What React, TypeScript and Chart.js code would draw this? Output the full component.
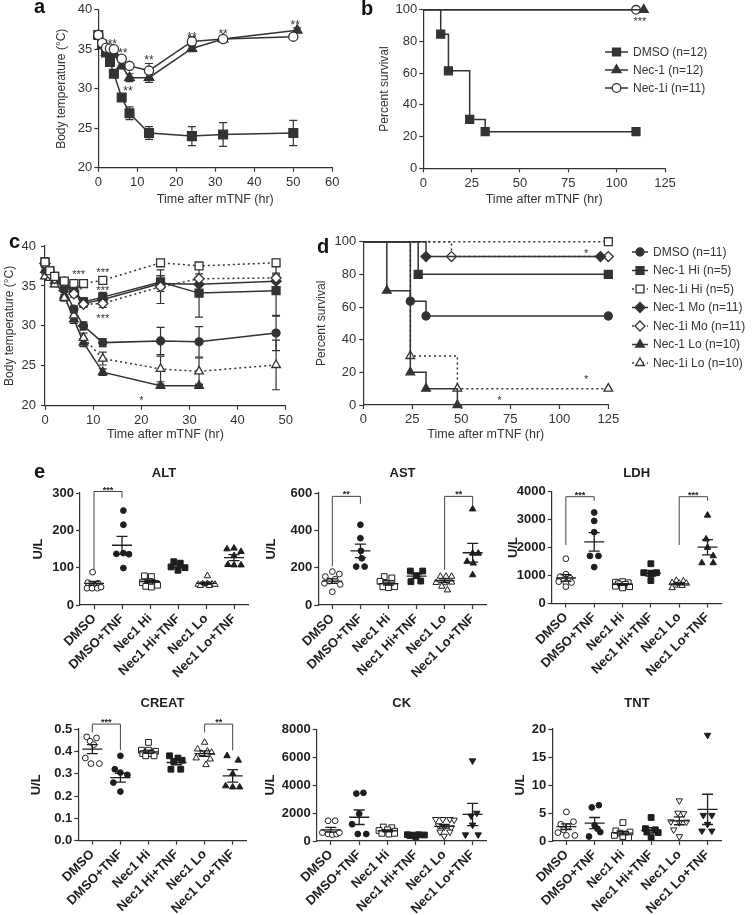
import React, { useEffect, useRef } from 'react';
import { Chart, registerables } from 'chart.js';

Chart.register(...registerables);

const FONT = '"Liberation Sans", Arial, Helvetica, sans-serif';
const INK = '#333333';
const DARK = '#1e1e1e';

// ===== Panel a : body temperature =====
const aTime = [0, 1, 2, 3, 4, 6, 8, 13, 24, 32, 50];
const aTimeNec1 = [0, 1, 2, 3, 4, 6, 8, 13, 24, 32, 51];
const aDmso = [36.8, 35.6, 34.6, 33.4, 31.9, 28.9, 26.9, 24.4, 24.0, 24.2, 24.4];
const aDmsoErr = [0.3, 0.3, 0.3, 0.3, 0.3, 0.4, 0.8, 0.8, 1.2, 1.5, 1.6];
const aNec1 = [36.8, 35.5, 34.6, 34.5, 34.4, 32.9, 31.4, 31.4, 35.1, 36.3, 37.4];
const aNec1Err = [0.2, 0.2, 0.2, 0.2, 0.2, 0.4, 0.5, 0.6, 0.4, 0.2, 0.3];
const aNec1i = [36.8, 35.8, 35.2, 35.1, 35.0, 33.8, 32.9, 32.3, 36.0, 36.3, 36.6];
const aNec1iErr = [0.2, 0.2, 0.2, 0.2, 0.2, 0.3, 0.3, 0.9, 0.6, 0.2, 0.2];
const aStarX = [3.6, 6.3, 7.6, 13, 24, 32, 50.5];
const aStarY = [36.0, 34.8, 30.0, 34.0, 36.9, 37.3, 38.4];
const aStarText = ['**', '**', '**', '**', '**', '**', '**'];

// ===== Panel b : survival =====
const bDmsoX = [0, 9, 13, 24, 32, 110];
const bDmsoY = [100, 84.6, 61.5, 30.8, 23.1, 23.1];
const bNec1X = [0, 114];
const bNec1Y = [100, 100];
const bNec1iX = [0, 110];
const bNec1iY = [100, 100];
const bLegend = ['DMSO (n=12)', 'Nec-1 (n=12)', 'Nec-1i (n=11)'];
const bStarX = [112];
const bStarY = [94.5];
const bStarText = ['***'];

// ===== Panel c : body temperature, doses =====
const cTime = [0, 1, 2, 4, 6, 8, 12, 24, 32, 48];
const cDmso = [37.8, 36.8, 36.0, 34.6, 32.1, 30.0, 27.9, 28.1, 28.0, 29.1];
const cDmsoErr = [0.3, 0.3, 0.3, 0.4, 0.4, 0.5, 0.5, 1.7, 1.9, 2.2];
const cNec1Hi = [38.0, 36.9, 36.2, 35.5, 34.5, 33.0, 33.6, 35.5, 34.1, 34.4];
const cNec1HiErr = [0.2, 0.3, 0.3, 0.3, 0.4, 0.5, 0.6, 0.8, 3.0, 3.2];
const cNec1iHi = [38.0, 36.9, 36.2, 35.6, 35.3, 35.3, 35.7, 37.9, 37.5, 37.9];
const cNec1iHiErr = [0.2, 0.2, 0.2, 0.2, 0.3, 0.3, 0.4, 0.3, 0.4, 0.3];
const cNec1Mo = [37.8, 36.6, 36.0, 35.4, 34.3, 32.8, 33.3, 35.3, 35.2, 35.6];
const cNec1MoErr = [0.2, 0.2, 0.2, 0.3, 0.4, 0.4, 0.6, 1.0, 0.8, 0.8];
const cNec1iMo = [37.8, 36.5, 35.9, 35.5, 34.0, 32.7, 32.8, 34.9, 35.9, 36.0];
const cNec1iMoErr = [0.2, 0.2, 0.2, 0.3, 0.4, 0.4, 0.5, 2.1, 0.6, 0.6];
const cNec1LoTime = [0, 1, 2, 4, 6, 8, 12, 24, 32];
const cNec1Lo = [37.0, 36.0, 35.6, 33.8, 30.8, 27.9, 24.2, 22.5, 22.5];
const cNec1LoErr = [0.3, 0.3, 0.3, 0.4, 0.5, 0.5, 0.4, 0.2, 0.2];
const cNec1iLo = [36.2, 36.0, 35.2, 33.5, 31.3, 28.5, 25.9, 24.6, 24.3, 25.1];
const cNec1iLoErr = [0.3, 0.3, 0.3, 0.4, 0.5, 0.6, 0.8, 1.6, 1.7, 3.1];
const cStarX = [7, 12, 12, 12, 7, 20];
const cStarY = [36.7, 37.0, 34.7, 31.2, 34.8, 21.0];
const cStarText = ['***', '***', '***', '***', '**', '*'];

// ===== Panel d : survival, doses =====
const dDmsoX = [0, 24, 32, 125];
const dDmsoY = [100, 63.6, 54.5, 54.5];
const dNec1HiX = [0, 28, 125];
const dNec1HiY = [100, 80, 80];
const dNec1iHiX = [0, 125];
const dNec1iHiY = [100, 100];
const dNec1MoX = [0, 32, 121];
const dNec1MoY = [100, 90.9, 90.9];
const dNec1iMoX = [0, 45, 125];
const dNec1iMoY = [100, 90.9, 90.9];
const dNec1LoX = [0, 12, 24, 32, 48];
const dNec1LoY = [100, 70, 20, 10, 0];
const dNec1iLoX = [0, 24, 48, 125];
const dNec1iLoY = [100, 30, 10, 10];
const dLegend = ['DMSO (n=11)', 'Nec-1 Hi (n=5)', 'Nec-1i Hi (n=5)', 'Nec-1 Mo (n=11)', 'Nec-1i Mo (n=11)', 'Nec-1 Lo (n=10)', 'Nec-1i Lo (n=10)'];
const dStarX = [113.7, 113.7, 69.4];
const dStarY = [94.3, 17.3, 4.5];
const dStarText = ['*', '*', '*'];

// ===== Panel e : serum markers =====
const eCats = ['DMSO', 'DMSO+TNF', 'Nec1 Hi', 'Nec1 Hi+TNF', 'Nec1 Lo', 'Nec1 Lo+TNF'];

const altPoints = [
  [[-0.05, 88], [-0.22, 60], [0.15, 58], [0.0, 52], [-0.25, 45], [-0.07, 45], [0.12, 45], [0.25, 48]],
  [[0.05, 253], [0.05, 215], [-0.2, 137], [0.05, 139], [0.25, 136], [0.05, 99]],
  [[-0.2, 78], [0.05, 76], [-0.27, 60], [0.0, 63], [0.2, 58], [-0.15, 50], [0.05, 48], [0.27, 53]],
  [[-0.15, 116], [0.08, 112], [-0.25, 102], [0.25, 100], [0.0, 93]],
  [[0.05, 78], [-0.28, 55], [-0.12, 56], [0.05, 57], [0.22, 56], [-0.2, 52], [0.12, 52], [0.32, 55]],
  [[-0.25, 150], [0.0, 152], [0.25, 143], [0.0, 132], [-0.22, 108], [0.0, 107], [0.25, 107]],
];
const altMean = [58, 160, 63, 104, 58, 127];
const altSem = [5, 24, 4, 4, 3, 8];
const altBrackets = [[0, 1, 304, 94, 287, '***']];

const astPoints = [
  [[0.0, 179], [0.25, 166], [-0.25, 152], [0.1, 138], [-0.28, 116], [-0.1, 128], [0.0, 71], [0.28, 110]],
  [[0.0, 430], [0.0, 358], [0.02, 290], [0.05, 250], [-0.15, 206], [0.15, 206]],
  [[-0.15, 152], [0.12, 145], [-0.3, 127], [-0.08, 116], [0.12, 116], [-0.2, 98], [0.0, 93], [0.22, 98]],
  [[-0.22, 182], [0.22, 182], [0.0, 157], [-0.2, 125], [0.15, 128]],
  [[-0.15, 153], [0.05, 153], [0.25, 153], [-0.3, 120], [0.0, 118], [0.25, 122], [-0.1, 100], [0.1, 80]],
  [[0.0, 514], [0.0, 277], [0.2, 277], [-0.2, 233], [0.02, 224], [0.0, 161]],
];
const astMean = [128, 290, 115, 155, 130, 280];
const astSem = [12, 36, 8, 12, 10, 50];
const astBrackets = [[0, 1, 582, 206, 542, '**'], [4, 5, 582, 188, 535, '**']];

const ldhPoints = [
  [[0.0, 1600], [0.0, 1050], [-0.2, 960], [0.15, 900], [-0.25, 780], [0.0, 750], [0.2, 750], [0.0, 600]],
  [[0.0, 3250], [0.0, 2950], [0.0, 2550], [-0.15, 1700], [0.15, 1700], [0.0, 1300]],
  [[-0.25, 760], [0.0, 780], [0.2, 740], [-0.15, 700], [0.1, 680], [-0.25, 620], [0.0, 560], [0.25, 600]],
  [[0.0, 1420], [-0.25, 1100], [0.2, 1100], [0.0, 1060], [0.0, 820]],
  [[-0.1, 820], [0.15, 800], [-0.25, 740], [0.0, 720], [0.25, 720], [-0.15, 650], [0.1, 640], [-0.25, 560]],
  [[0.0, 3150], [-0.05, 2300], [0.0, 2000], [0.2, 1700], [-0.2, 1450], [0.2, 1450]],
];
const ldhMean = [910, 2200, 680, 1080, 700, 2010];
const ldhSem = [120, 330, 30, 100, 35, 270];
const ldhBrackets = [[0, 1, 3814, 2089, 3671, '***'], [4, 5, 3814, 2089, 3671, '***']];

const creatPoints = [
  [[-0.2, 0.465], [0.15, 0.46], [-0.08, 0.445], [0.05, 0.43], [-0.25, 0.37], [-0.05, 0.345], [0.25, 0.345]],
  [[0.0, 0.38], [-0.2, 0.32], [0.0, 0.305], [0.25, 0.295], [-0.25, 0.26], [0.0, 0.22]],
  [[0.0, 0.44], [-0.25, 0.405], [0.0, 0.405], [0.25, 0.40], [-0.2, 0.39], [0.1, 0.39], [-0.1, 0.38], [0.2, 0.38]],
  [[-0.25, 0.38], [0.05, 0.37], [0.2, 0.36], [-0.1, 0.355], [-0.2, 0.32], [0.15, 0.32]],
  [[0.0, 0.44], [-0.25, 0.41], [0.1, 0.40], [0.25, 0.395], [-0.1, 0.39], [-0.3, 0.37], [0.2, 0.365], [0.05, 0.34]],
  [[-0.2, 0.38], [0.2, 0.36], [0.0, 0.30], [-0.25, 0.245], [0.0, 0.24], [0.25, 0.24]],
];
const creatMean = [0.41, 0.282, 0.398, 0.35, 0.39, 0.29];
const creatSem = [0.02, 0.02, 0.007, 0.01, 0.012, 0.028];
const creatBrackets = [[0, 1, 0.522, 0.485, 0.405, '***'], [4, 5, 0.522, 0.485, 0.405, '**']];

const ckPoints = [
  [[-0.1, 1450], [0.15, 1450], [-0.3, 600], [-0.1, 500], [0.05, 450], [0.2, 500], [0.3, 600]],
  [[-0.1, 3400], [0.15, 3450], [0.0, 1950], [-0.25, 1200], [-0.05, 500], [0.25, 500]],
  [[-0.15, 1000], [0.15, 950], [-0.3, 750], [0.0, 800], [0.25, 700], [-0.2, 550], [0.05, 500], [0.25, 550]],
  [[-0.3, 450], [-0.1, 420], [0.1, 450], [0.3, 430], [0.0, 300], [-0.2, 380]],
  [[-0.3, 1550], [-0.05, 1550], [0.2, 1550], [0.35, 1500], [-0.2, 1100], [0.0, 1000], [0.25, 950], [-0.15, 650], [0.2, 650], [0.0, 350]],
  [[0.0, 5750], [0.15, 2000], [-0.05, 1800], [0.0, 1150], [-0.25, 450], [0.2, 450]],
];
const ckMean = [800, 1700, 720, 400, 1050, 1900];
const ckSem = [170, 520, 70, 25, 130, 800];

const tntPoints = [
  [[0.0, 5.2], [0.25, 3.45], [-0.2, 3.0], [0.05, 2.6], [-0.1, 2.0], [-0.3, 1.5], [0.0, 1.0], [0.3, 1.0]],
  [[-0.1, 6.0], [0.15, 6.4], [0.0, 2.8], [0.2, 1.6], [-0.2, 0.8], [0.1, 2.2]],
  [[0.0, 3.3], [-0.25, 1.8], [0.25, 1.6], [-0.1, 1.4], [0.1, 1.2], [-0.3, 1.0], [0.0, 0.8], [0.2, 0.6]],
  [[0.0, 4.2], [-0.2, 2.2], [0.15, 2.0], [-0.15, 1.6], [0.25, 1.5], [0.0, 0.6]],
  [[0.0, 7.2], [-0.05, 5.0], [0.15, 4.9], [-0.3, 3.45], [0.0, 3.3], [0.25, 3.4], [-0.2, 2.0], [0.0, 0.8]],
  [[0.0, 18.9], [-0.15, 4.6], [0.15, 4.6], [0.0, 3.0], [-0.2, 1.8], [0.15, 1.8]],
];
const tntMean = [2.55, 3.2, 1.4, 1.9, 3.6, 5.65];
const tntSem = [0.5, 1.0, 0.3, 0.5, 0.7, 2.7];

// ---------- helpers ----------
const xy = (xs: number[], ys: number[]) => xs.map((x, i) => ({ x, y: ys[i] }));

function drawMarker(ctx: any, shape: string, x: number, y: number, r: number, fill: string, stroke: string, lw: number, rot: number) {
  ctx.save();
  ctx.beginPath();
  ctx.fillStyle = fill;
  ctx.strokeStyle = stroke;
  ctx.lineWidth = lw;
  ctx.setLineDash([]);
  if (shape === 'circle') ctx.arc(x, y, r, 0, Math.PI * 2);
  else if (shape === 'rect') {
    const s = r * Math.SQRT1_2;
    ctx.rect(x - s, y - s, 2 * s, 2 * s);
  } else if (shape === 'rectRot') {
    ctx.moveTo(x - r, y); ctx.lineTo(x, y - r); ctx.lineTo(x + r, y); ctx.lineTo(x, y + r); ctx.closePath();
  } else {
    let a = (rot * Math.PI) / 180;
    for (let k = 0; k < 3; k++) {
      const px = x + Math.sin(a) * r, py = y - Math.cos(a) * r;
      if (k === 0) ctx.moveTo(px, py); else ctx.lineTo(px, py);
      a += (2 * Math.PI) / 3;
    }
    ctx.closePath();
  }
  ctx.fill();
  ctx.stroke();
  ctx.restore();
}

const extras = {
  id: 'extras',
  beforeDatasetsDraw(chart: any, _a: any, o: any) {
    if (!o || !o.errorBars) return;
    const { ctx } = chart;
    const xs = chart.scales.x, ys = chart.scales.y;
    ctx.save();
    chart.data.datasets.forEach((ds: any) => {
      if (!ds.errors) return;
      ctx.strokeStyle = ds.borderColor;
      ctx.lineWidth = 1.2;
      ctx.setLineDash([]);
      ds.data.forEach((p: any, i: number) => {
        const e = ds.errors[i];
        if (!e) return;
        const x = xs.getPixelForValue(p.x);
        const y1 = ys.getPixelForValue(p.y - e), y2 = ys.getPixelForValue(p.y + e);
        const c = o.cap;
        ctx.beginPath();
        ctx.moveTo(x, y1); ctx.lineTo(x, y2);
        ctx.moveTo(x - c, y1); ctx.lineTo(x + c, y1);
        ctx.moveTo(x - c, y2); ctx.lineTo(x + c, y2);
        ctx.stroke();
      });
    });
    ctx.restore();
  },
  afterDatasetsDraw(chart: any, _a: any, o: any) {
    if (!o) return;
    const { ctx, chartArea } = chart;
    const xs = chart.scales.x, ys = chart.scales.y;
    ctx.save();
    if (o.meanSem) {
      ctx.strokeStyle = DARK;
      ctx.lineWidth = 1.3;
      chart.data.datasets.forEach((ds: any) => {
        if (ds.mean == null) return;
        const x = xs.getPixelForValue(ds.cat);
        const ym = ys.getPixelForValue(ds.mean);
        const y1 = ys.getPixelForValue(ds.mean - ds.sem), y2 = ys.getPixelForValue(ds.mean + ds.sem);
        ctx.beginPath();
        ctx.moveTo(x - 10, ym); ctx.lineTo(x + 10, ym);
        ctx.moveTo(x, y1); ctx.lineTo(x, y2);
        ctx.moveTo(x - 5.5, y1); ctx.lineTo(x + 5.5, y1);
        ctx.moveTo(x - 5.5, y2); ctx.lineTo(x + 5.5, y2);
        ctx.stroke();
      });
    }
    (o.brackets || []).forEach((b: any) => {
      const [ca, cb, top, lb, rb, txt] = b;
      const xa = xs.getPixelForValue(ca), xb = xs.getPixelForValue(cb), yt = ys.getPixelForValue(top);
      ctx.strokeStyle = '#444';
      ctx.lineWidth = 1;
      ctx.beginPath();
      ctx.moveTo(xa, ys.getPixelForValue(lb)); ctx.lineTo(xa, yt); ctx.lineTo(xb, yt); ctx.lineTo(xb, ys.getPixelForValue(rb));
      ctx.stroke();
      ctx.fillStyle = '#222';
      ctx.font = `bold 9px ${FONT}`;
      ctx.textAlign = 'center';
      ctx.textBaseline = 'alphabetic';
      ctx.fillText(txt, (xa + xb) / 2, yt + 1);
    });
    if (o.stars) {
      const [sx, sy, st] = o.stars;
      ctx.fillStyle = INK;
      ctx.font = `${o.starSize}px ${FONT}`;
      ctx.textAlign = 'center';
      ctx.textBaseline = 'alphabetic';
      sx.forEach((x: number, i: number) => {
        ctx.fillText(st[i], xs.getPixelForValue(x), ys.getPixelForValue(sy[i]) + o.starSize * 0.55);
      });
    }
    if (o.legend) {
      const L = o.legend;
      L.labels.forEach((label: string, k: number) => {
        const ds = chart.data.datasets[L.order[k]];
        const y = L.ys[k];
        ctx.strokeStyle = ds.borderColor;
        ctx.lineWidth = ds.borderWidth;
        ctx.setLineDash(ds.borderDash || []);
        ctx.beginPath();
        ctx.moveTo(L.x0, y); ctx.lineTo(L.x1, y);
        ctx.stroke();
        ctx.setLineDash([]);
        drawMarker(ctx, ds.pointStyle, (L.x0 + L.x1) / 2, y, ds.mr, ds.pointBackgroundColor, ds.pointBorderColor, ds.pointBorderWidth, 0);
        ctx.fillStyle = INK;
        ctx.font = `${L.size}px ${FONT}`;
        ctx.textAlign = 'left';
        ctx.textBaseline = 'middle';
        ctx.fillText(label, L.tx, y + 0.5);
      });
    }
    if (o.title) {
      ctx.fillStyle = DARK;
      ctx.font = `bold 13px ${FONT}`;
      ctx.textAlign = 'center';
      ctx.textBaseline = 'middle';
      ctx.fillText(o.title, (chartArea.left + chartArea.right) / 2, chartArea.top - o.titleGap);
    }
    ctx.restore();
  },
};

type Box = { left: number; top: number; width: number; height: number };
type Area = { left: number; right: number; top: number; bottom: number };

function axis(isX: boolean, a: any) {
  const weight = a.bold ? 'bold' : 'normal';
  const color = a.bold ? DARK : INK;
  return {
    type: 'linear',
    position: isX ? 'bottom' : 'left',
    min: a.min,
    max: a.max,
    afterBuildTicks: a.ticks ? (s: any) => { s.ticks = a.ticks.map((v: number) => ({ value: v })); } : undefined,
    ticks: {
      stepSize: a.step,
      autoSkip: false,
      maxRotation: a.rotate || 0,
      minRotation: a.rotate || 0,
      color,
      padding: a.tickPad,
      font: { family: FONT, size: a.tickFont, weight },
      callback: (v: any) => (a.labels ? a.labels[v] : a.fmt ? a.fmt(v) : String(v)),
    },
    grid: { display: true, drawOnChartArea: false, drawTicks: true, tickLength: 4, tickColor: INK, tickWidth: 1.2 },
    border: { display: true, color: INK, width: 1.2 },
    title: {
      display: !!a.title,
      text: a.title,
      color,
      font: { family: FONT, size: a.titleFont, weight },
      padding: isX ? { top: 0, bottom: a.titlePad } : { top: a.titlePad, bottom: 0 },
    },
    afterFit: (s: any) => {
      if (isX) s.height = a.size; else s.width = a.size;
    },
  };
}

function buildConfig(box: Box, area: Area, type: string, datasets: any[], xa: any, ya: any, extrasOpts: any) {
  const yWidth = area.left - box.left;
  const xHeight = box.top + box.height - area.bottom;
  return {
    type,
    data: { datasets },
    options: {
      responsive: false,
      animation: false,
      events: [],
      layout: { autoPadding: false, padding: { left: 0, top: area.top - box.top, right: box.left + box.width - area.right, bottom: 0 } },
      plugins: { legend: { display: false }, tooltip: { enabled: false }, title: { display: false }, extras: extrasOpts },
      scales: {
        x: axis(true, { ...xa, size: xHeight }),
        y: axis(false, { ...ya, size: yWidth }),
      },
    },
    plugins: [extras],
  };
}

function ChartBox({ box, make }: { box: Box; make: () => any }) {
  const ref = useRef<HTMLCanvasElement>(null);
  useEffect(() => {
    const c = new Chart(ref.current as any, make());
    return () => c.destroy();
  }, []);
  return (
    <canvas
      ref={ref}
      width={box.width}
      height={box.height}
      style={{ position: 'absolute', left: box.left, top: box.top, width: box.width, height: box.height, display: 'block' }}
    />
  );
}

function lineSeries(data: any[], shape: string, r: number, open: boolean, dash: boolean, errors: number[] | null, skipFirst: boolean, stepped: boolean, color = INK) {
  return {
    data,
    borderColor: color,
    borderWidth: 1.5,
    borderDash: dash ? [2, 3] : [],
    pointStyle: shape,
    pointRadius: skipFirst ? (c: any) => (c.dataIndex === 0 ? 0 : r) : r,
    mr: r,
    pointBackgroundColor: open ? '#ffffff' : color,
    pointBorderColor: color,
    pointBorderWidth: 1.3,
    errors,
    stepped,
    tension: 0,
    fill: false,
    clip: false,
  };
}

const TITLE_X = 'Time after mTNF (hr)';

// ---------- panels a-d ----------
const boxA = { left: 20, top: 0, width: 340, height: 215 };
const areaA = { left: 98.3, right: 332.3, top: 6.7, bottom: 167.7 };
const makeA = () =>
  buildConfig(boxA, areaA, 'line', [
    lineSeries(xy(aTime, aNec1i), 'circle', 4.6, true, false, aNec1iErr, false, false),
    lineSeries(xy(aTimeNec1, aNec1), 'triangle', 5.5, false, false, aNec1Err, false, false),
    lineSeries(xy(aTime, aDmso), 'rect', 6.2, false, false, aDmsoErr, false, false),
  ],
  { min: 0, max: 60, step: 10, tickFont: 13, tickPad: 3, title: TITLE_X, titleFont: 12.5, titlePad: 7.5 },
  { min: 20, max: 40, step: 5, tickFont: 13, tickPad: 2, title: 'Body temperature (°C)', titleFont: 12, titlePad: 34.8 },
  { errorBars: true, cap: 4, stars: [aStarX, aStarY, aStarText], starSize: 12 });

const boxB = { left: 370, top: 0, width: 382, height: 215 };
const areaB = { left: 423.3, right: 665, top: 6.7, bottom: 168.3 };
const makeB = () =>
  buildConfig(boxB, areaB, 'line', [
    lineSeries(xy(bDmsoX, bDmsoY), 'rect', 5.6, false, false, null, true, true),
    lineSeries(xy(bNec1X, bNec1Y), 'triangle', 5.2, false, false, null, true, true),
    lineSeries(xy(bNec1iX, bNec1iY), 'circle', 4.3, true, false, null, true, true),
  ],
  { min: 0, max: 125, step: 25, tickFont: 13, tickPad: 3, title: TITLE_X, titleFont: 12.5, titlePad: 7.5 },
  { min: 0, max: 100, step: 20, tickFont: 13, tickPad: 2, title: 'Percent survival', titleFont: 12, titlePad: 7.8 },
  {
    stars: [bStarX, bStarY, bStarText], starSize: 11,
    legend: { labels: bLegend, order: [0, 1, 2], x0: 235, x1: 258, tx: 263, ys: [52, 70, 88], size: 12 },
  });

const boxC = { left: 0, top: 225, width: 310, height: 222 };
const areaC = { left: 45, right: 285.7, top: 246, bottom: 405.7 };
const makeC = () =>
  buildConfig(boxC, areaC, 'line', [
    lineSeries(xy(cTime, cNec1iHi), 'rect', 5.6, true, true, cNec1iHiErr, false, false),
    lineSeries(xy(cTime, cNec1iMo), 'rectRot', 5, true, true, cNec1iMoErr, false, false),
    lineSeries(xy(cTime, cNec1Mo), 'rectRot', 5, false, false, cNec1MoErr, false, false),
    lineSeries(xy(cTime, cNec1Hi), 'rect', 5.6, false, false, cNec1HiErr, false, false),
    lineSeries(xy(cTime, cDmso), 'circle', 4, false, false, cDmsoErr, false, false),
    lineSeries(xy(cTime, cNec1iLo), 'triangle', 5, true, true, cNec1iLoErr, false, false),
    lineSeries(xy(cNec1LoTime, cNec1Lo), 'triangle', 5, false, false, cNec1LoErr, false, false),
  ],
  { min: 0, max: 50, step: 10, tickFont: 13, tickPad: 3, title: TITLE_X, titleFont: 12.5, titlePad: 4.5 },
  { min: 20, max: 40, step: 5, tickFont: 13, tickPad: 5, title: 'Body temperature (°C)', titleFont: 12, titlePad: 2.8 },
  { errorBars: true, cap: 4, stars: [cStarX, cStarY, cStarText], starSize: 11 });

const boxD = { left: 310, top: 225, width: 442, height: 222 };
const areaD = { left: 363.3, right: 608.3, top: 241.7, bottom: 405 };
const makeD = () =>
  buildConfig(boxD, areaD, 'line', [
    lineSeries(xy(dDmsoX, dDmsoY), 'circle', 4, false, false, null, true, true),
    lineSeries(xy(dNec1HiX, dNec1HiY), 'rect', 5.6, false, false, null, true, true),
    lineSeries(xy(dNec1iHiX, dNec1iHiY), 'rect', 5.6, true, true, null, true, true),
    lineSeries(xy(dNec1MoX, dNec1MoY), 'rectRot', 5, false, false, null, true, true),
    lineSeries(xy(dNec1iMoX, dNec1iMoY), 'rectRot', 5, true, true, null, true, true),
    lineSeries(xy(dNec1LoX, dNec1LoY), 'triangle', 5, false, false, null, true, true),
    lineSeries(xy(dNec1iLoX, dNec1iLoY), 'triangle', 5, true, true, null, true, true),
  ],
  { min: 0, max: 125, step: 25, tickFont: 13, tickPad: 3, title: TITLE_X, titleFont: 12.5, titlePad: 4.5 },
  { min: 0, max: 100, step: 20, tickFont: 13, tickPad: 3, title: 'Percent survival', titleFont: 12, titlePad: 4.8 },
  {
    stars: [dStarX, dStarY, dStarText], starSize: 11,
    legend: { labels: dLegend, order: [0, 1, 2, 3, 4, 5, 6], x0: 322, x1: 338, tx: 343, ys: [27, 45.5, 64, 82.5, 101, 119.5, 138], size: 12 },
  });

// ---------- panel e ----------
const eShapes = [
  { shape: 'circle', open: true, r: 2.9, rot: 0 },
  { shape: 'circle', open: false, r: 2.9, rot: 0 },
  { shape: 'rect', open: true, r: 4.1, rot: 0 },
  { shape: 'rect', open: false, r: 4.1, rot: 0 },
  { shape: 'triangle', open: true, r: 3.7, rot: 0 },
  { shape: 'triangle', open: false, r: 3.7, rot: 0 },
];
const eShapesDown = [
  { shape: 'circle', open: true, r: 2.9, rot: 0 },
  { shape: 'circle', open: false, r: 2.9, rot: 0 },
  { shape: 'rect', open: true, r: 4.1, rot: 0 },
  { shape: 'rect', open: false, r: 4.1, rot: 0 },
  { shape: 'triangle', open: true, r: 3.7, rot: 180 },
  { shape: 'triangle', open: false, r: 3.7, rot: 180 },
];

function makeE(box: Box, area: Area, title: string, titleGap: number, yTitleX: number,
  yMin: number, yMax: number, yStep: number, fmt: ((v: number) => string) | null,
  points: number[][][], mean: number[], sem: number[], brackets: any[], shapes: any[]) {
  return () => {
    const datasets = points.map((grp, ci) => {
      const st = shapes[ci];
      return {
        data: grp.map(([dx, v]) => ({ x: ci + dx, y: v })),
        pointStyle: st.shape,
        pointRotation: st.rot,
        pointRadius: st.r,
        pointBackgroundColor: st.open ? '#ffffff' : DARK,
        pointBorderColor: DARK,
        pointBorderWidth: 1,
        showLine: false,
        clip: false,
        mean: mean[ci],
        sem: sem[ci],
        cat: ci,
      };
    });
    return buildConfig(box, area, 'scatter', datasets,
      { min: -0.5, max: 5.5, ticks: [0, 1, 2, 3, 4, 5], labels: eCats, rotate: 45, bold: true, tickFont: 13, tickPad: 2 },
      { min: yMin, max: yMax, step: yStep, fmt, bold: true, tickFont: 13, tickPad: 2, title: 'U/L', titleFont: 13, titlePad: yTitleX - box.left - 7.8 },
      { meanSem: true, brackets, title, titleGap });
  };
}

const boxALT = { left: 0, top: 455, width: 255, height: 235 };
const boxAST = { left: 255, top: 455, width: 245, height: 235 };
const boxLDH = { left: 500, top: 455, width: 252, height: 235 };
const boxCREAT = { left: 0, top: 690, width: 255, height: 225 };
const boxCK = { left: 255, top: 690, width: 245, height: 225 };
const boxTNT = { left: 500, top: 690, width: 252, height: 225 };

const makeALT = makeE(boxALT, { left: 80, right: 248, top: 493, bottom: 605 }, 'ALT', 20, 38, 0, 300, 100, null, altPoints, altMean, altSem, altBrackets, eShapes);
const makeAST = makeE(boxAST, { left: 318.3, right: 486.7, top: 493, bottom: 605 }, 'AST', 20, 271.7, 0, 600, 200, null, astPoints, astMean, astSem, astBrackets, eShapes);
const makeLDH = makeE(boxLDH, { left: 551.7, right: 721.7, top: 491.5, bottom: 603.5 }, 'LDH', 18.5, 513.3, 0, 4000, 1000, null, ldhPoints, ldhMean, ldhSem, ldhBrackets, eShapes);
const makeCREAT = makeE(boxCREAT, { left: 78.3, right: 246.7, top: 729, bottom: 840.7 }, 'CREAT', 26, 36.7, 0, 0.5, 0.1, (v: number) => v.toFixed(1), creatPoints, creatMean, creatSem, creatBrackets, eShapes);
const makeCK = makeE(boxCK, { left: 316.7, right: 486.7, top: 729.3, bottom: 841 }, 'CK', 26, 270, 0, 8000, 2000, null, ckPoints, ckMean, ckSem, [], eShapesDown);
const makeTNT = makeE(boxTNT, { left: 552.3, right: 721.7, top: 729, bottom: 841 }, 'TNT', 26, 520, 0, 20, 5, null, tntPoints, tntMean, tntSem, [], eShapesDown);

const letters: [string, number, number][] = [
  ['a', 34, -4],
  ['b', 361, -2],
  ['c', 9, 231],
  ['d', 317, 236],
  ['e', 34, 461],
];

export default function App() {
  return (
    <div style={{ position: 'absolute', left: 0, top: 0, width: 752, height: 915, overflow: 'hidden', background: '#ffffff' }}>
      <ChartBox box={boxA} make={makeA} />
      <ChartBox box={boxB} make={makeB} />
      <ChartBox box={boxC} make={makeC} />
      <ChartBox box={boxD} make={makeD} />
      <ChartBox box={boxALT} make={makeALT} />
      <ChartBox box={boxAST} make={makeAST} />
      <ChartBox box={boxLDH} make={makeLDH} />
      <ChartBox box={boxCREAT} make={makeCREAT} />
      <ChartBox box={boxCK} make={makeCK} />
      <ChartBox box={boxTNT} make={makeTNT} />
      {letters.map(([t, x, y]) => (
        <div key={t} style={{ position: 'absolute', left: x, top: y, fontFamily: FONT, fontWeight: 'bold', fontSize: 20, lineHeight: '20px', color: '#111' }}>
          {t}
        </div>
      ))}
    </div>
  );
}
